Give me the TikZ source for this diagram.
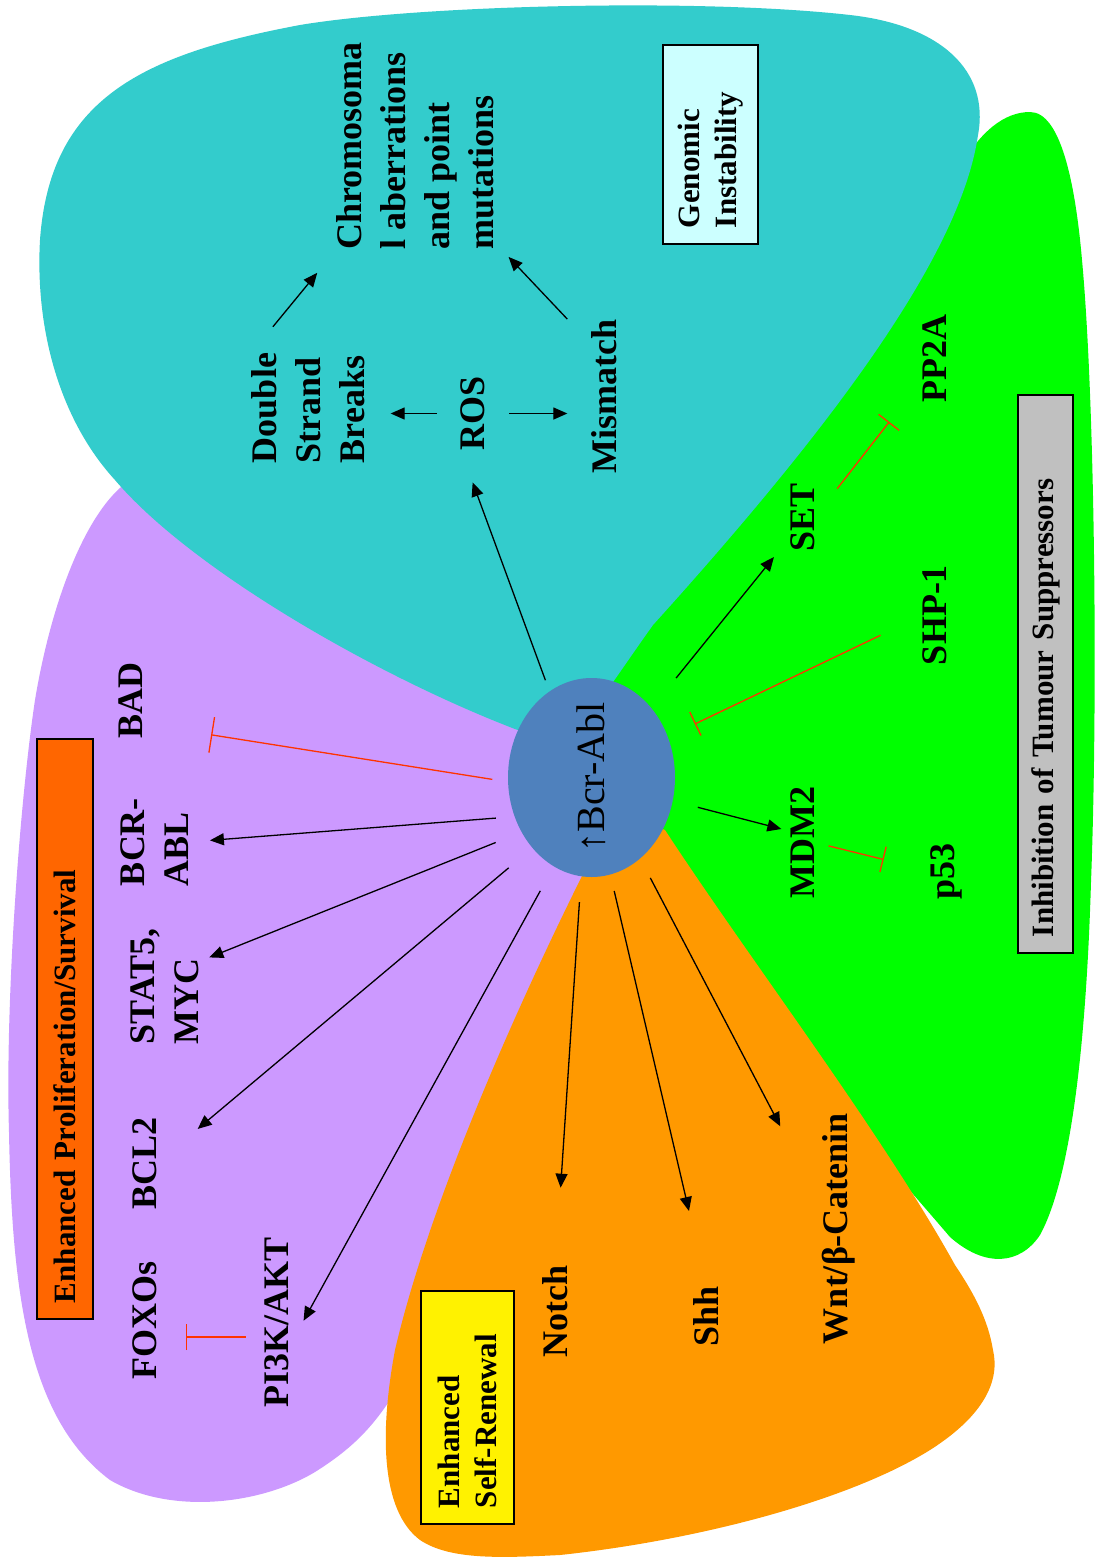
\documentclass[tikz,border=0pt]{standalone}
\usepackage{fontspec}
\setmainfont{Liberation Serif}
\usetikzlibrary{arrows.meta, shapes.geometric}
\definecolor{genteal}{HTML}{33CCCC}
\definecolor{supgreen}{HTML}{00FF00}
\definecolor{prolilac}{HTML}{CC99FF}
\definecolor{renorange}{HTML}{FF9900}
\definecolor{bcrblue}{HTML}{4F81BD}
\definecolor{inhred}{HTML}{FF3300}
\definecolor{genbox}{HTML}{CCFFFF}
\definecolor{probox}{HTML}{FF6600}
\definecolor{supbox}{HTML}{C0C0C0}

\begin{document}
\begin{tikzpicture}[x=1pt, y=-1pt,
    gene/.style={rotate=90, font=\fontsize{36}{44}\selectfont\bfseries, align=left, inner sep=0pt, outer sep=0pt},
    tag/.style={rotate=90, draw, line width=1.3pt, font=\fontsize{31}{37}\selectfont\bfseries, align=left, inner xsep=16pt, inner ysep=0pt},
    act/.style={draw, line width=1.3pt, -{Triangle[length=14pt, width=12pt]}},
    inh/.style={draw=inhred, line width=1.3pt, -{Bar[width=26pt]}}]
  \useasboundingbox (0,0) rectangle (1096,1564);
  \fill[white] (0,0) rectangle (1096,1564);

  \fill[prolilac] (600,790) .. controls (450,680) and (250,540) .. (150,472)
    .. controls (100,480) and (55,580) .. (35,700)
    .. controls (20,800) and (5,1000) .. (9,1132)
    .. controls (12,1300) and (30,1420) .. (110,1480)
    .. controls (170,1515) and (260,1505) .. (315,1472)
    .. controls (350,1450) and (370,1430) .. (390,1400)
    .. controls (450,1300) and (550,1050) .. (610,850) -- cycle;
  \fill[supgreen] (600,700) .. controls (700,500) and (900,250) .. (955,175)
    .. controls (980,130) and (1005,112) .. (1030,112)
    .. controls (1060,112) and (1075,180) .. (1082,260)
    .. controls (1095,400) and (1098,700) .. (1091,882)
    .. controls (1086,1050) and (1070,1180) .. (1040,1235)
    .. controls (1020,1265) and (985,1268) .. (950,1237)
    .. controls (850,1120) and (720,980) .. (640,830) -- cycle;
  \fill[genteal] (560,745) .. controls (420,700) and (200,580) .. (115,480)
    .. controls (60,420) and (35,330) .. (40,240)
    .. controls (50,100) and (140,55) .. (300,25)
    .. controls (420,5) and (700,-2) .. (850,15)
    .. controls (940,25) and (990,70) .. (978,135)
    .. controls (960,260) and (820,440) .. (653,625)
    .. controls (635,650) and (615,680) .. (600,700) -- cycle;
  \fill[renorange] (600,850) -- (585,870) .. controls (520,1000) and (430,1200) .. (395,1350)
    .. controls (380,1430) and (380,1510) .. (420,1540)
    .. controls (450,1560) and (500,1558) .. (560,1555)
    .. controls (700,1540) and (850,1500) .. (930,1450)
    .. controls (985,1415) and (1000,1380) .. (993,1350)
    .. controls (988,1320) and (975,1295) .. (955,1265)
    .. controls (880,1130) and (750,960) .. (665,830) -- (640,820) -- cycle;

  \node[ellipse, rotate=90, fill=bcrblue, minimum width=199pt, minimum height=167pt, inner sep=0pt, outer sep=0pt,
        font=\fontsize{40}{48}\selectfont] (bcr) at (591.5,777.5) {\makebox[0pt]{↑Bcr-Abl}};

  \node[tag, fill=genbox, minimum height=95pt, text width=167pt] (genomic) at (710.5,144.5) {Genomic\\Instability};
  \node[tag, fill=supbox, minimum height=55pt, text width=526pt] (suppress) at (1045.5,674) {Inhibition of Tumour Suppressors};
  \node[tag, fill=probox, minimum height=56pt, text width=548pt] (prolif) at (65,1029) {Enhanced Proliferation/Survival};
  \node[tag, fill=yellow, minimum height=93pt, text width=201pt] (renew) at (467.5,1407.5) {Enhanced\\Self-Renewal};

  \node[gene] (dsb) at (308,408) {Double\\Strand\\Breaks};
  \node[gene] (chrom) at (415,146) {Chromosoma\\l aberrations\\and point\\mutations};
  \node[gene] (ros) at (473,413.5) {ROS};
  \node[gene] (mism) at (604,396.5) {Mismatch};
  \node[gene] (set) at (803,517) {SET};
  \node[gene] (pp2a) at (935,358.5) {PP2A};
  \node[gene] (shp) at (935,615) {SHP-1};
  \node[gene] (mdm) at (803,842.5) {MDM2};
  \node[gene] (p53) at (946,871) {p53};
  \node[gene] (bad) at (131,700) {BAD};
  \node[gene] (bcrabl) at (155,842) {BCR-\\ABL};
  \node[gene] (stat) at (165,986.5) {STAT5,\\MYC};
  \node[gene] (bcl) at (145,1163) {BCL2};
  \node[gene] (foxo) at (145,1320) {FOXOs};
  \node[gene] (pik) at (277,1322) {PI3K/AKT};
  \node[gene] (notch) at (555.5,1311.5) {Notch};
  \node[gene] (shh) at (706.5,1316) {Shh};
  \node[gene] (wnt) at (838.5,1228.5) {Wnt/β-Catenin};

  \draw[act, shorten <=12pt, shorten >=34pt] (bcr.26) -- (ros.north west);
  \draw[act, shorten <=24pt, shorten >=26pt] (ros.north) -- (ros.north -| dsb.south);
  \draw[act, shorten <=24pt, shorten >=24pt] (ros.south) -- (ros.south -| mism.north);
  \draw[act, shorten <=34pt, shorten >=30pt] (dsb.north east) -- (chrom.north west);
  \draw[act, shorten <=35pt, shorten >=10pt] ([yshift=-25pt]mism.north east) -- ([xshift=8pt]chrom.south west);

  \draw[act, shorten <=39pt, shorten >=27pt] (bcr.319) -- ([yshift=15pt]set.north west);
  \draw[inh, shorten <=36pt, shorten >=55pt] (set.south) -- ([yshift=-20pt]pp2a.north);
  \draw[inh, shorten <=47pt, shorten >=30pt] (shp.north) -- (bcr.298);
  \draw[act, shorten <=26pt, shorten >=10pt] (bcr.254.5) -- ([yshift=11pt]mdm.north);
  \draw[inh, shorten <=14pt, shorten >=48pt] (mdm.south) -- (p53.north);

  \draw[inh, -{Bar[width=36pt]}, shorten <=16pt, shorten >=69pt] (bcr.93.2) -- ([yshift=14pt]bad.south west);
  \draw[act, shorten <=19pt, shorten >=21pt] (bcr.117.9) -- (bcrabl.south);
  \draw[act, shorten <=28pt, shorten >=11pt] (bcr.128) -- ([yshift=25pt]stat.south);
  \draw[act, shorten <=31pt, shorten >=53pt] (bcr.140.6) -- (bcl.south);
  \draw[act, shorten <=28pt, shorten >=30pt] (bcr.157.3) -- ([yshift=-25pt]pik.south);
  \draw[inh, shorten <=19pt, shorten >=29pt] ([yshift=-15pt]pik.north) -- ([yshift=-15pt]pik.north -| foxo.south);

  \draw[act, shorten <=26pt, shorten >=78pt] (bcr.174.8) -- (notch.east);
  \draw[act, shorten <=17pt, shorten >=77pt] (bcr.191.7) -- (shh.east);
  \draw[act, shorten <=22pt, shorten >=90pt] (bcr.211.1) -- ([yshift=-93pt]wnt.north east);
\end{tikzpicture}
\end{document}
